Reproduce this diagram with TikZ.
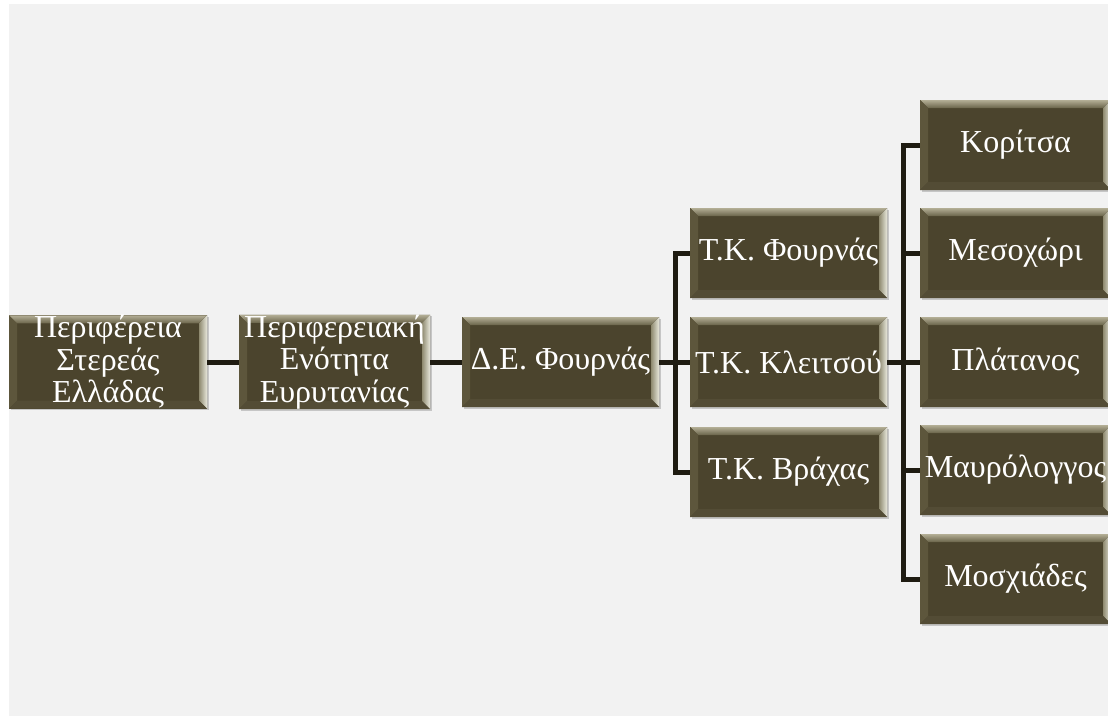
\documentclass[tikz,border=0pt]{standalone}
\usepackage{fontspec}
\setmainfont{Liberation Serif}
\usetikzlibrary{shadows}
\definecolor{boxfill}{HTML}{4B442D}
\definecolor{conncol}{HTML}{1F1C12}
\definecolor{bgcol}{HTML}{F2F2F2}
\definecolor{beveltop}{HTML}{B3AE95}
\definecolor{beveltopin}{HTML}{6A644A}
\definecolor{bevelleft}{HTML}{5D563C}
\definecolor{bevelrightout}{HTML}{E8E8DC}
\definecolor{bevelrightin}{HTML}{8F8A70}
\definecolor{bevelbottom}{HTML}{534C35}
\tikzset{
  bx/.style={fill=boxfill, text=white, minimum height=90pt, inner sep=0pt,
    align=center, font=\fontsize{32}{32.5}\selectfont,
    drop shadow={shadow xshift=1.5pt, shadow yshift=-1.5pt, opacity=0.18, fill=black},
    path picture={
      \coordinate (NW) at (path picture bounding box.north west);
      \coordinate (NE) at (path picture bounding box.north east);
      \coordinate (SW) at (path picture bounding box.south west);
      \coordinate (SE) at (path picture bounding box.south east);
      \fill[top color=beveltop, bottom color=beveltopin] (NW) -- (NE) -- ([xshift=-8pt,yshift=-8pt]NE) -- ([xshift=8pt,yshift=-8pt]NW) -- cycle;
      \fill[bevelleft] (NW) -- ([xshift=8pt,yshift=-8pt]NW) -- ([xshift=8pt,yshift=8pt]SW) -- (SW) -- cycle;
      \fill[left color=bevelrightin, right color=bevelrightout] (NE) -- ([xshift=-8pt,yshift=-8pt]NE) -- ([xshift=-8pt,yshift=8pt]SE) -- (SE) -- cycle;
      \fill[bevelbottom] (SW) -- ([xshift=8pt,yshift=8pt]SW) -- ([xshift=-8pt,yshift=8pt]SE) -- (SE) -- cycle;
    }},
  conn/.style={draw=conncol, line width=5pt}
}
\begin{document}
\begin{tikzpicture}[x=1pt,y=-1pt]
\useasboundingbox (0,0) rectangle (1108,715);
\fill[white] (-5,-5) rectangle (1120,730);
\fill[bgcol] (9,4) rectangle (1120,730);
\coordinate (j1) at (675,0);
\coordinate (j2) at (903,0);
\node[bx, minimum width=198pt] (b1) at (108,362) {Περιφέρεια\\Στερεάς\\ Ελλάδας};
\node[bx, minimum width=191pt] (b2) at (334.5,362) {Περιφερειακή\\Ενότητα\\Ευρυτανίας};
\node[bx, minimum width=197pt] (b3) at (560.5,362) {Δ.Ε. Φουρνάς};
\node[bx, minimum width=197pt] (t1) at (788.5,253) {Τ.Κ. Φουρνάς};
\node[bx, minimum width=197pt] (t2) at (788.5,362) {Τ.Κ. Κλειτσού};
\node[bx, minimum width=197pt] (t3) at (788.5,472) {Τ.Κ. Βράχας};
\node[bx, minimum width=191pt] (r1) at (1015.5,145) {Κορίτσα};
\node[bx, minimum width=191pt] (r2) at (1015.5,253) {Μεσοχώρι};
\node[bx, minimum width=191pt] (r3) at (1015.5,362) {Πλάτανος};
\node[bx, minimum width=191pt] (r4) at (1015.5,470) {Μαυρόλογγος};
\node[bx, minimum width=191pt] (r5) at (1015.5,579) {Μοσχιάδες};
\draw[conn] (b1.east) -- (b2.west);
\draw[conn] (b2.east) -- (b3.west);
\draw[conn] (b3.east) -- (t2.west);
\draw[conn] (t1.west) -- (t1.west -| j1) |- (t3.west);
\draw[conn] (t2.east) -- (r3.west);
\draw[conn] (r1.west) -- (r1.west -| j2) |- (r5.west);
\draw[conn] (r2.west) -- (r2.west -| j2);
\draw[conn] (r4.west) -- (r4.west -| j2);
\end{tikzpicture}
\end{document}
